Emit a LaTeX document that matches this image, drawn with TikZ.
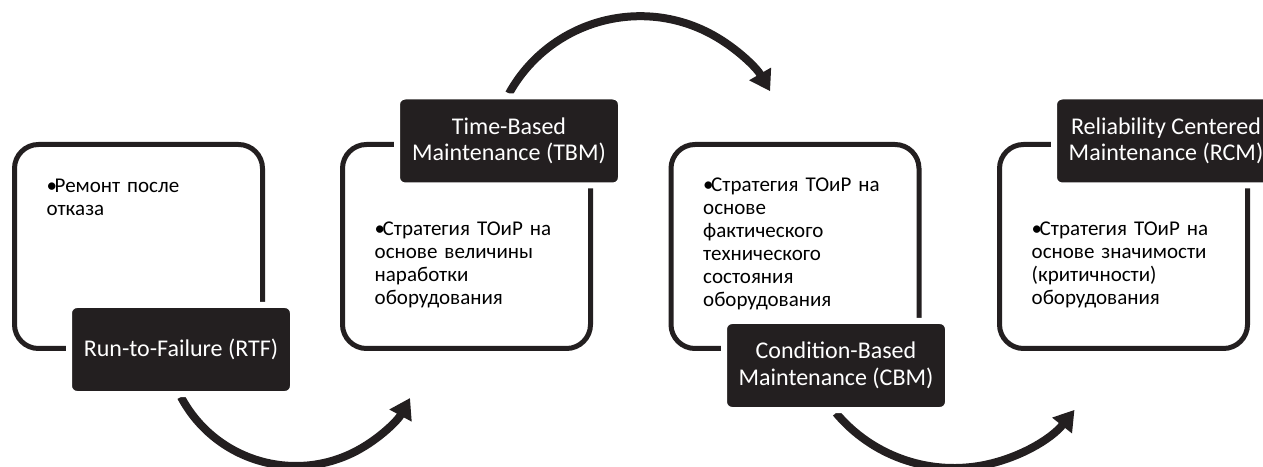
\documentclass[tikz,border=0pt]{standalone}
\usepackage{fontspec}
\setmainfont{Carlito}
\usepackage{tikz}
\usetikzlibrary{positioning, arrows.meta, backgrounds}
\definecolor{boxblack}{RGB}{35,31,32}
\newcommand{\bul}[1]{\hangindent=8pt\hangafter=1\noindent\makebox[8pt][l]{\textbullet}#1}

\begin{document}
\begin{tikzpicture}[x=1pt, y=1pt,
    panelbox/.style={draw=boxblack, line width=5pt, rounded corners=24pt,
      minimum width=248pt, minimum height=204pt, outer sep=0pt},
    stagebox/.style={fill=boxblack, draw=white, line width=6pt, rounded corners=8pt,
      minimum width=224pt, minimum height=89pt, text=white, align=center,
      font=\fontsize{24}{26.5}\selectfont},
    bodytext/.style={text width=210pt, inner sep=0pt,
      font=\fontsize{21}{23}\selectfont},
    bend arrow/.style={draw=boxblack, line width=8pt, -{Triangle[length=20pt,width=24pt]}}]
  \clip (0,0) rectangle (1263,466);

  \node[panelbox] (p1) at (138.5,219.5) {};
  \node[panelbox] (p2) at (466.5,219.5) {};
  \node[panelbox] (p3) at (795,219.5) {};
  \node[panelbox] (p4) at (1123.5,219.5) {};

  \node[bodytext, below right=48pt and 32pt of p1.north west, anchor=base west] (t1)
    {\bul{Ремонт после\newline отказа}};
  \node[bodytext, below right=91.5pt and 32pt of p2.north west, anchor=base west] (t2)
    {\bul{Стратегия ТОиР на\newline основе величины\newline наработки\newline оборудования}};
  \node[bodytext, below right=47pt and 32pt of p3.north west, anchor=base west] (t3)
    {\bul{Стратегия ТОиР на\newline основе\newline фактического\newline технического\newline состояния\newline оборудования}};
  \node[bodytext, below right=91.5pt and 32pt of p4.north west, anchor=base west] (t4)
    {\bul{Стратегия ТОиР на\newline основе значимости\newline (критичности)\newline оборудования}};

  \node[stagebox] (rtf) at (181,116.5) {Run-to-Failure (RTF)};
  \node[stagebox] (tbm) at (509,325) {Time-Based\\Maintenance (TBM)};
  \node[stagebox] (cbm) at (836,100.5) {Condition-Based\\Maintenance (CBM)};
  \node[stagebox] (rcm) at (1166,325) {Reliability Centered\\Maintenance (RCM)};

  % curved arrows behind the boxes
  \begin{scope}[on background layer]
    \draw[bend arrow] (rtf.south) arc[start angle=208, end angle=331.5, radius=130pt];
    \draw[bend arrow] (tbm.north) arc[start angle=151, end angle=30, radius=150pt];
    \draw[bend arrow] (cbm.south) arc[start angle=220, end angle=321.5, radius=154pt];
  \end{scope}
\end{tikzpicture}
\end{document}
